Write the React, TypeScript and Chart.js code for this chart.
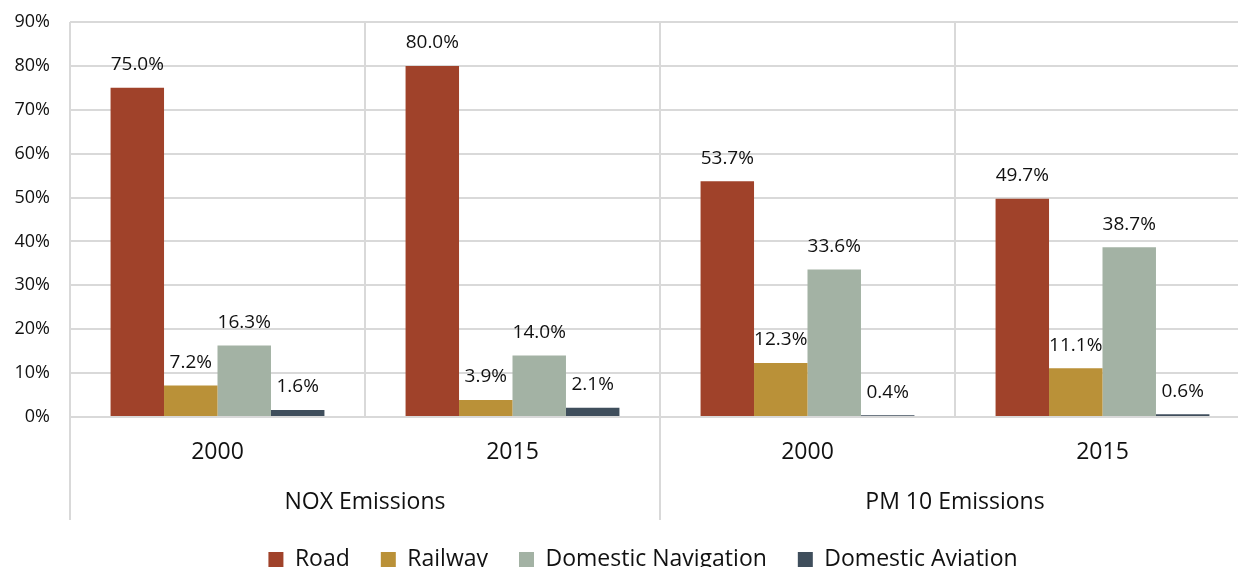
import React, { useEffect, useRef } from "react";
import { Chart, registerables } from "chart.js";

Chart.register(...registerables);

const categories = ["2000", "2015", "2000", "2015"];
const groupLabels = ["NOX Emissions", "PM 10 Emissions"];
const seriesNames = ["Road", "Railway", "Domestic Navigation", "Domestic Aviation"];
const seriesColors = ["#A0422A", "#BA9138", "#A3B2A4", "#3F4E5C"];
const road = [75.0, 80.0, 53.7, 49.7];
const railway = [7.2, 3.9, 12.3, 11.1];
const navigation = [16.3, 14.0, 33.6, 38.7];
const aviation = [1.6, 2.1, 0.4, 0.6];
const yMax = 90;
const yStep = 10;

const FONT = "'Open Sans', sans-serif";
const GRID = "#d9d9d9";

const dataLabelPlugin = {
  id: "dataLabels",
  afterDatasetsDraw(chart: any) {
    const ctx = chart.ctx;
    ctx.save();
    ctx.font = `19px ${FONT}`;
    ctx.fillStyle = "#111";
    ctx.textAlign = "center";
    ctx.textBaseline = "middle";
    chart.data.datasets.forEach((ds: any, di: number) => {
      const meta = chart.getDatasetMeta(di);
      meta.data.forEach((el: any, i: number) => {
        ctx.fillText(`${Number(ds.data[i]).toFixed(1)}%`, el.x, el.y - 23);
      });
    });
    ctx.restore();
  },
};

const groupLinesPlugin = {
  id: "groupLines",
  afterDraw(chart: any) {
    const ctx = chart.ctx;
    const x = chart.scales.x;
    const x2 = chart.scales.x2;
    const area = chart.chartArea;
    const mid = (x.getPixelForValue(1) + x.getPixelForValue(2)) / 2;
    const xs = [area.left, mid, area.right];
    ctx.save();
    ctx.strokeStyle = GRID;
    ctx.lineWidth = 2;
    xs.forEach((px) => {
      ctx.beginPath();
      ctx.moveTo(px, area.bottom);
      ctx.lineTo(px, x2.bottom + 3);
      ctx.stroke();
    });
    ctx.restore();
  },
};

export default function App() {
  const ref = useRef<HTMLCanvasElement>(null);
  useEffect(() => {
    const values = [road, railway, navigation, aviation];
    const chart = new Chart(ref.current as HTMLCanvasElement, {
      type: "bar",
      data: {
        labels: categories,
        datasets: seriesNames.map((name, i) => ({
          label: name,
          data: values[i],
          backgroundColor: seriesColors[i],
          borderWidth: 0,
          barPercentage: 1,
          categoryPercentage: 0.725,
        })),
      },
      options: {
        animation: false,
        responsive: true,
        maintainAspectRatio: false,
        events: [],
        layout: { padding: { top: 22, right: 2, left: 0, bottom: 0 } },
        plugins: {
          tooltip: { enabled: false },
          legend: {
            position: "bottom",
            labels: {
              boxWidth: 15,
              boxHeight: 15,
              padding: 31,
              color: "#111",
              font: { family: FONT, size: 23 },
            },
          },
        },
        scales: {
          x: {
            type: "category",
            position: "bottom",
            grid: { offset: true, color: GRID, lineWidth: 2, drawTicks: false },
            border: { display: false },
            ticks: { color: "#111", padding: 22, font: { family: FONT, size: 23 } },
            afterFit: (s: any) => { s.height = 48; },
          },
          x2: {
            type: "category",
            position: "bottom",
            labels: groupLabels,
            offset: true,
            grid: { display: false, drawTicks: false },
            border: { display: false },
            ticks: { color: "#111", padding: 24, font: { family: FONT, size: 23 } },
            afterFit: (s: any) => { s.height = 52; },
          },
          y: {
            min: 0,
            max: yMax,
            grid: { color: GRID, lineWidth: 2, drawTicks: false },
            border: { display: false },
            ticks: {
              stepSize: yStep,
              padding: 20,
              color: "#111",
              font: { family: FONT, size: 18 },
              callback: (v: any) => `${v}%`,
            },
            afterFit: (s: any) => { s.width = 70; s.paddingTop = 8; s.paddingBottom = 8; },
          },
          yRight: {
            type: "linear",
            position: "right",
            display: true,
            grid: { display: false, drawTicks: false },
            border: { display: false },
            ticks: { display: false },
            afterFit: (s: any) => { s.width = 36; s.paddingTop = 0; s.paddingBottom = 0; },
          },
        },
      },
      plugins: [dataLabelPlugin, groupLinesPlugin],
    });
    return () => chart.destroy();
  }, []);
  return (
    <div style={{ position: "fixed", left: 0, top: 0, width: "1238px", height: "567px", overflow: "hidden", background: "#fff" }}>
      <div style={{ position: "relative", width: "1288px", height: "581px" }}>
        <canvas ref={ref} />
      </div>
    </div>
  );
}
